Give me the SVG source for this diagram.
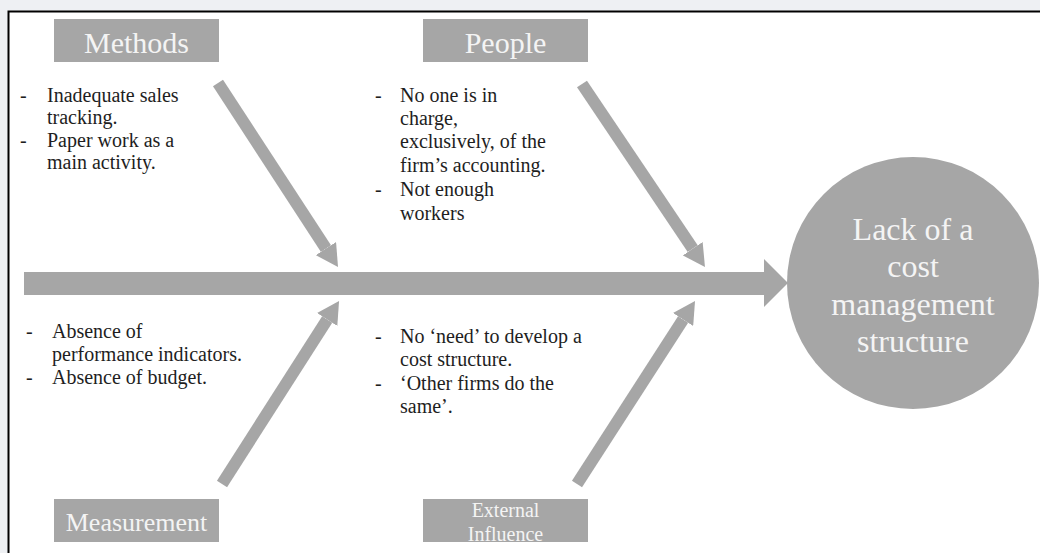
<svg xmlns="http://www.w3.org/2000/svg" width="1040" height="553" viewBox="0 0 1040 553">
<style>
.box{fill:#a6a6a6}
.lbl{font-family:"Liberation Serif",serif;fill:#f4f4f4;text-anchor:middle}
.txt{font-family:"Liberation Serif",serif;font-size:20px;fill:#1e1e1e}
.bone{stroke:#a6a6a6;stroke-width:12;fill:none;marker-end:url(#ah)}
</style>
<defs>
<marker id="ah" viewBox="0 -12 22 24" refX="0" refY="0" markerWidth="22" markerHeight="24" markerUnits="userSpaceOnUse" orient="auto">
<path d="M0,-12 L22,0 L0,12 z" fill="#a6a6a6"/>
</marker>
</defs>
<rect x="0" y="0" width="1040" height="553" fill="#eef0f3"/>
<rect x="8.5" y="11.5" width="1040" height="560" fill="#ffffff" stroke="#000" stroke-width="2"/>

<g id="connectors">
<polygon points="24,272 764,272 764,259 788,283 764,307 764,295 24,295" fill="#a6a6a6"/>
<line class="bone" x1="218" y1="83" x2="326" y2="248.6"/>
<line class="bone" x1="582" y1="84" x2="692.7" y2="248.7"/>
<line class="bone" x1="222" y1="484" x2="327.2" y2="319.5"/>
<line class="bone" x1="577" y1="484" x2="683.1" y2="319.5"/>
</g>

<g id="methods">
<rect class="box" x="54" y="19" width="165" height="43"/>
<text class="lbl" x="136.5" y="53" font-size="30">Methods</text>
</g>
<g id="people">
<rect class="box" x="423" y="19" width="165" height="43"/>
<text class="lbl" x="505.5" y="53" font-size="30">People</text>
</g>
<g id="measurement">
<rect class="box" x="54" y="499" width="165" height="43"/>
<text class="lbl" x="136.5" y="531" font-size="26">Measurement</text>
</g>
<g id="external">
<rect class="box" x="423" y="499" width="165" height="43"/>
<text class="lbl" x="505.5" y="517" font-size="20">External</text>
<text class="lbl" x="505.5" y="541" font-size="20">Influence</text>
</g>
<g id="effect">
<circle cx="913" cy="283" r="126" fill="#a6a6a6"/>
<text class="lbl" x="913" y="240" font-size="32">Lack of a</text>
<text class="lbl" x="913" y="277" font-size="32">cost</text>
<text class="lbl" x="913" y="315" font-size="32">management</text>
<text class="lbl" x="913" y="352" font-size="32">structure</text>
</g>

<g id="methods-causes" class="txt">
<text x="20" y="102">-</text><text x="47" y="102">Inadequate sales</text>
<text x="47" y="124">tracking.</text>
<text x="20" y="147">-</text><text x="47" y="147">Paper work as a</text>
<text x="47" y="169">main activity.</text>
</g>
<g id="people-causes" class="txt">
<text x="375" y="102">-</text><text x="400" y="102">No one is in</text>
<text x="400" y="125">charge,</text>
<text x="400" y="148">exclusively, of the</text>
<text x="400" y="172">firm’s accounting.</text>
<text x="375" y="196">-</text><text x="400" y="196">Not enough</text>
<text x="400" y="220">workers</text>
</g>
<g id="measurement-causes" class="txt">
<text x="26" y="338">-</text><text x="52" y="338">Absence of</text>
<text x="52" y="361">performance indicators.</text>
<text x="26" y="384">-</text><text x="52" y="384">Absence of budget.</text>
</g>
<g id="external-causes" class="txt">
<text x="375" y="343">-</text><text x="400" y="343">No ‘need’ to develop a</text>
<text x="400" y="366">cost structure.</text>
<text x="375" y="390">-</text><text x="400" y="390">‘Other firms do the</text>
<text x="400" y="413">same’.</text>
</g>
</svg>
